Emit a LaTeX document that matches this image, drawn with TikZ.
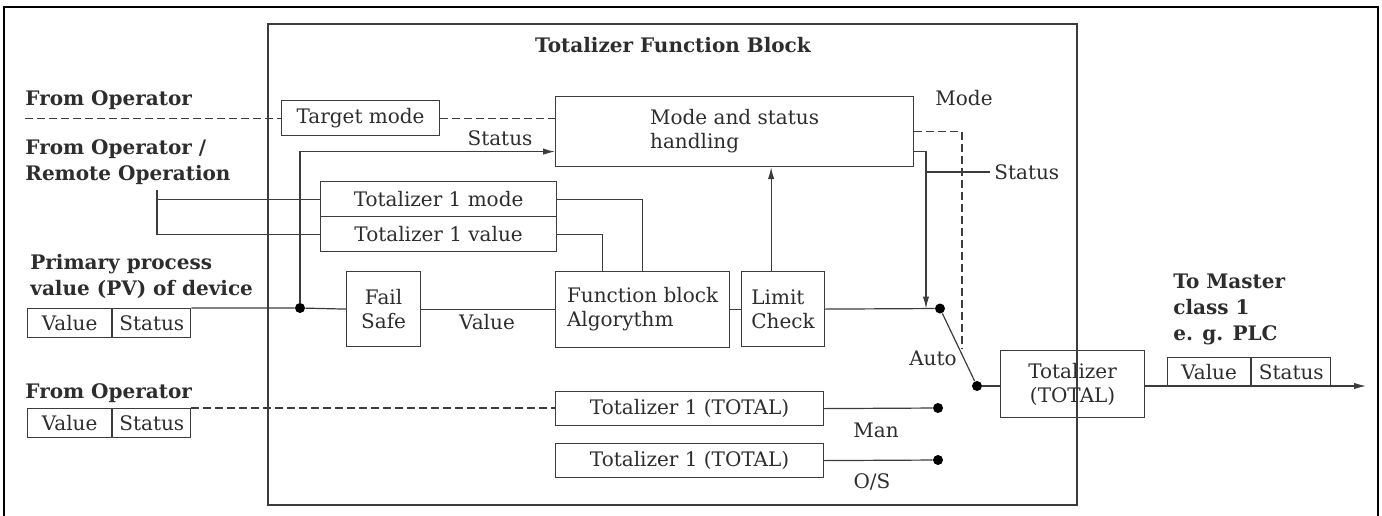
\documentclass[tikz,border=0pt]{standalone}
\usepackage{fontspec}
\setmainfont{DejaVu Serif}
\usetikzlibrary{arrows.meta,positioning,calc}
\definecolor{tfbline}{RGB}{60,60,60}
\definecolor{tfbtext}{RGB}{45,45,45}
\tikzset{
  blk/.style={draw=tfbline,line width=0.6pt,anchor=north west,inner sep=1pt,
              font=\fontsize{10}{12}\selectfont,text=tfbtext,align=center},
  cell/.style={blk,minimum height=14.5pt},
  lbl/.style={font=\fontsize{10}{12}\selectfont,text=tfbtext,inner sep=2pt},
  head/.style={font=\fontsize{10}{13}\selectfont\bfseries,text=tfbtext,
               align=left,inner sep=0pt,anchor=west},
  wire/.style={draw=tfbline,line width=0.6pt},
  dwire/.style={wire,dash pattern=on 4pt off 2pt},
  arr/.style={wire,-{Latex[length=6pt,width=3.2pt]}},
  dot/.style={circle,fill=black,inner sep=0pt,minimum size=5pt},
}
\begin{document}
\begin{tikzpicture}[x=0.5pt,y=-0.5pt]
  \useasboundingbox (0,0) rectangle (1382,515);
  % frame and block
  \draw[line width=1pt] (4,516) -- (4,7) -- (1378,7) -- (1378,516);
  \draw[draw=tfbline,line width=0.8pt] (268,24) rectangle (1077,505);
  \node[head,anchor=center](title) at (673,45){Totalizer Function Block};

  % Inputs
  \node[head](fromop) at (25,100){From Operator};
  \node[head](fromrem) at (25,162){From Operator /\\Remote Operation};
  \node[head](pvlbl) at (30,276){Primary process\\value (PV) of device};
  \node[cell,minimum width=42pt](pvv) at (27,308){Value};
  \node[cell,minimum width=39pt](pvs) at (pvv.north east){Status};
  \node[head](fromop2) at (25,393){From Operator};
  \node[cell,minimum width=42pt](opv) at (27,408){Value};
  \node[cell,minimum width=39pt](ops) at (opv.north east){Status};

  % Blocks
  \node[blk,minimum width=79pt,minimum height=17.5pt](target) at (281,100){Target mode};
  \node[blk,minimum width=179pt,minimum height=35pt,align=left](mode) at (555,96){Mode and status\\handling};
  \node[blk,minimum width=118pt,minimum height=17.5pt](tmode) at (320,181){Totalizer 1 mode};
  \node[blk,minimum width=118pt,minimum height=17.5pt](tval) at (320,216){Totalizer 1 value};
  \node[blk,minimum width=37pt,minimum height=37.5pt](fs) at (346,271){Fail\\Safe};
  \node[blk,minimum width=87pt,minimum height=38pt,align=left](fba) at (555,271){Function block\\Algorythm};
  \node[blk,minimum width=41.5pt,minimum height=37.5pt,align=left](lc) at (741,271){Limit\\Check};
  \node[blk,minimum width=134pt,minimum height=17pt](tot1) at (555,391){Totalizer 1 (TOTAL)};
  \node[blk,minimum width=134pt,minimum height=17pt](tot2) at (555,443){Totalizer 1 (TOTAL)};
  \node[blk,minimum width=72pt,minimum height=33.5pt](total) at (1000,350){Totalizer\\(TOTAL)};
  \node[cell,minimum width=41.5pt](outv) at (1167,357){Value};
  \node[cell,minimum width=39.5pt](outs) at (outv.north east){Status};
  \node[head](master) at (1173,309){To Master\\class 1\\e. g. PLC};

  % Switch contacts
  \node[dot](dauto) at (940,308.5){};
  \node[dot](dman) at (938,408){};
  \node[dot](dos) at (938,460){};
  \node[dot](dtot) at (977,386){};
  \node[dot](jpv) at (300,308){};
  \coordinate (rop) at (157,190);
  \coordinate (tap) at (926,308.5);
  \coordinate (mend) at (962,348);
  \coordinate (outend) at (1366,386);

  % Wires
  \draw[dwire](fromop.south west|-target.west)--(target.west);
  \draw[dwire](target.east)--(target.east-|mode.west);
  \draw[arr](jpv)|-([yshift=-10pt]mode.west);
  \draw[wire](pvs.north east)--(jpv)--(fs.west);
  \draw[wire](fs.east)--(fs.east-|fba.west);
  \draw[wire](fba.east)--(fba.east-|lc.west);
  \draw[wire](lc.east)--(dauto);
  \draw[arr]([xshift=-6pt]lc.north)--([xshift=-6pt]lc.north|-mode.south);
  \draw[wire](rop)|-(tval.west);
  \draw[wire](rop|-tmode.west)--(tmode.west);
  \draw[wire](tmode.east)-|(fba.north);
  \draw[wire](tval.east)-|([xshift=-20pt]fba.north);
  \draw[arr]([yshift=-10pt]mode.east)-|(tap);
  \draw[dwire](mode.east)-|(mend);
  \draw[dwire](ops.north east)--(ops.north east-|tot1.west);
  \draw[wire](tot1.east)--(dman);
  \draw[wire](tot2.east)--(dos);
  \draw[wire](dauto)--(dtot);
  \draw[wire](dtot)--(dtot-|total.west);
  \draw[arr](total.east|-outend)--(outend);

  % Labels
  \node[lbl](stat1) at (500,138){Status};
  \node[lbl](vallbl) at (487,322){Value};
  \node[lbl](modelbl) at (964,98){Mode};
  \node[lbl,anchor=west](stat2) at (990,172){Status};
  \draw[wire](tap|-stat2.west)--(stat2.west);
  \node[lbl](autolbl) at (933,358){Auto};
  \node[lbl](manlbl) at (876,430){Man};
  \node[lbl](oslbl) at (872,482){O/S};
\end{tikzpicture}
\end{document}
